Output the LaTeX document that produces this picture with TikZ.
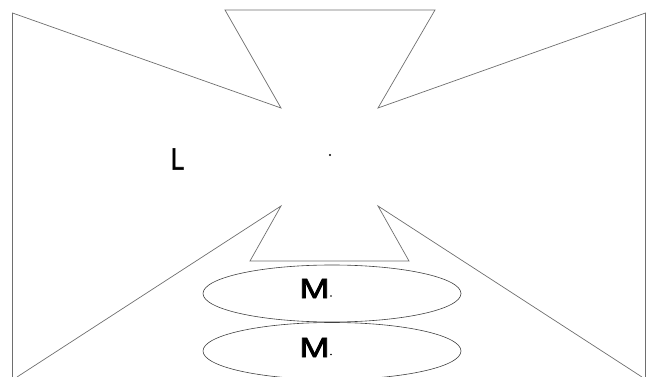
\documentclass[tikz,border=0pt]{standalone}
\usepackage{fontspec}
\setmainfont{Liberation Sans}
\newfontfamily\heavysans[FakeBold=2.2]{Liberation Sans}
\usepackage{tikz}
\usetikzlibrary{shapes.geometric}
\definecolor{edge}{RGB}{110,110,110}

\begin{document}
\begin{tikzpicture}[x=1pt, y=-1pt,
  outline/.style={draw=edge, line width=0.7pt, line join=miter},
  lens/.style={ellipse, draw=black!75, line width=0.6pt, minimum width=258pt, minimum height=57pt, inner sep=0pt},
  letter/.style={inner sep=0pt, text=black, font=\heavysans\fontsize{28}{28}\selectfont}]
\useasboundingbox (0,0) rectangle (649,377);
\clip (0,0) rectangle (649,377);
% ---- cross-shaped outline
\draw[outline] (12.5,378) -- (12.5,13) -- (281,108) -- (225,10) -- (435,10) -- (378,108)
  -- (645.5,13) -- (645.5,378);
\draw[outline] (17,377) -- (281,206) -- (250,261) -- (409,261) -- (378,206) -- (642,377);
\fill (330,155) circle (1.1pt);
\node[letter] (lbl) at (177.5,159) {\scalebox{0.85}[1.1]{L}};
% ---- two ellipses
\node[lens] (top) at (332,293.5) {};
\node[lens] (bot) at (332,351) {};
\node[letter] (mtop) at (314.5,288.5) {\scalebox{1.3}[1]{M}};
\node[letter] (mbot) at (314.5,347.5) {\scalebox{1.3}[1]{M}};
\fill (331,296) circle (0.8pt);
\fill (331,354.5) circle (0.8pt);
\end{tikzpicture}
\end{document}
